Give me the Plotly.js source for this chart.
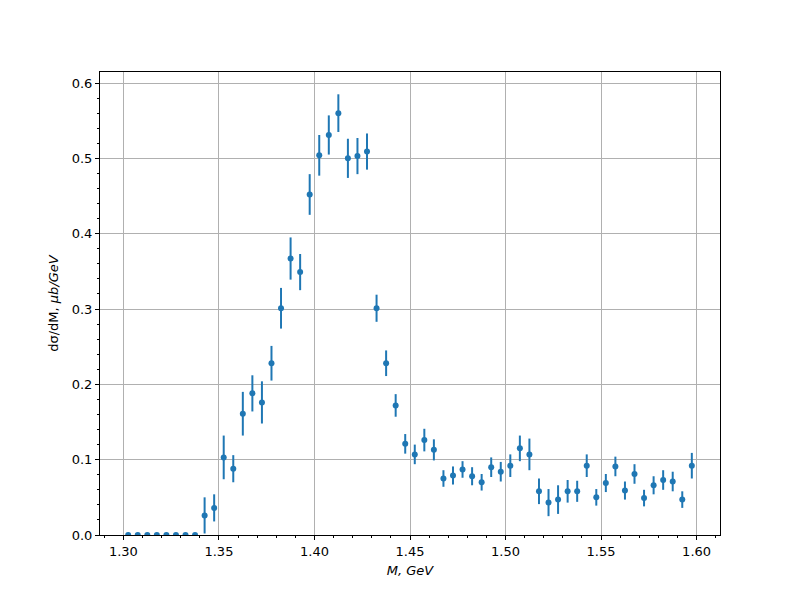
<!DOCTYPE html>
<html>
<head>
<meta charset="utf-8">
<script src="https://cdn.plot.ly/plotly-3.0.1.min.js"></script>
<style>html,body{margin:0;padding:0;background:#fff;}#chart{width:800px;height:600px;}</style>
</head>
<body>
<div id="chart"></div>
<script>
const massGeV = [
  1.3025, 1.3075, 1.3125, 1.3175, 1.3225, 1.3275, 1.3325, 1.3375,
  1.3425, 1.3475, 1.3525, 1.3575, 1.3625, 1.3675, 1.3725, 1.3775,
  1.3825, 1.3875, 1.3925, 1.3975, 1.4025, 1.4075, 1.4125, 1.4175,
  1.4225, 1.4275, 1.4325, 1.4375, 1.4425, 1.4475, 1.4525, 1.4575,
  1.4625, 1.4675, 1.4725, 1.4775, 1.4825, 1.4875, 1.4925, 1.4975,
  1.5025, 1.5075, 1.5125, 1.5175, 1.5225, 1.5275, 1.5325, 1.5375,
  1.5425, 1.5475, 1.5525, 1.5575, 1.5625, 1.5675, 1.5725, 1.5775,
  1.5825, 1.5875, 1.5925, 1.5975
];
const dsigma = [
  0, 0, 0, 0, 0, 0, 0, 0,
  0.026, 0.036, 0.103, 0.088, 0.161, 0.188, 0.176, 0.228,
  0.301, 0.367, 0.349, 0.452, 0.504, 0.531, 0.560, 0.500,
  0.503, 0.509, 0.301, 0.228, 0.172, 0.121, 0.107, 0.126,
  0.113, 0.075, 0.079, 0.087, 0.078, 0.070, 0.090, 0.084,
  0.092, 0.115, 0.107, 0.058, 0.043, 0.047, 0.058, 0.058,
  0.092, 0.050, 0.069, 0.091, 0.059, 0.081, 0.049, 0.066,
  0.073, 0.071, 0.047, 0.092
];
const dsigmaErr = [
  0, 0, 0, 0, 0, 0, 0, 0,
  0.024, 0.018, 0.029, 0.018, 0.029, 0.024, 0.028, 0.023,
  0.027, 0.028, 0.024, 0.027, 0.027, 0.026, 0.025, 0.026,
  0.024, 0.024, 0.018, 0.017, 0.015, 0.013, 0.013, 0.015,
  0.014, 0.011, 0.012, 0.011, 0.012, 0.011, 0.013, 0.013,
  0.015, 0.017, 0.021, 0.017, 0.018, 0.019, 0.015, 0.014,
  0.015, 0.011, 0.012, 0.013, 0.012, 0.013, 0.011, 0.012,
  0.013, 0.013, 0.011, 0.017
];
const xTicks = [1.30, 1.35, 1.40, 1.45, 1.50, 1.55, 1.60];
const xTickText = ['1.30', '1.35', '1.40', '1.45', '1.50', '1.55', '1.60'];
const yTicks = [0.0, 0.1, 0.2, 0.3, 0.4, 0.5, 0.6];
const yTickText = ['0.0', '0.1', '0.2', '0.3', '0.4', '0.5', '0.6'];

const font = {family: 'DejaVu Sans', size: 13, color: '#000'};

const trace = {
  type: 'scatter',
  mode: 'markers',
  x: massGeV,
  y: dsigma,
  error_y: {type: 'data', array: dsigmaErr, visible: true, color: '#1f77b4', thickness: 2, width: 0},
  marker: {color: '#1f77b4', size: 6},
  hoverinfo: 'x+y'
};

const axisCommon = {
  showline: true, mirror: true, linecolor: '#000', linewidth: 1,
  ticks: 'outside', ticklen: 4, tickwidth: 1, tickcolor: '#000',
  showgrid: true, gridcolor: '#b0b0b0', gridwidth: 1,
  zeroline: false, tickfont: font
};

const layout = {
  width: 800, height: 600,
  paper_bgcolor: '#fff', plot_bgcolor: '#fff',
  margin: {l: 100, r: 80, t: 72, b: 65},
  showlegend: false,
  font: font,
  xaxis: Object.assign({}, axisCommon, {
    range: [1.28775, 1.61225],
    tickmode: 'array', tickvals: xTicks, ticktext: xTickText,
    minor: {dtick: 0.01, tick0: 1.30, ticks: 'outside', ticklen: 2, tickcolor: '#000', showgrid: false},
    title: {text: '<i>M, GeV</i>', font: font, standoff: 8}
  }),
  yaxis: Object.assign({}, axisCommon, {
    range: [0, 0.6146],
    tickmode: 'array', tickvals: yTicks, ticktext: yTickText,
    minor: {dtick: 0.02, tick0: 0, ticks: 'outside', ticklen: 2, tickcolor: '#000', showgrid: false},
    title: {text: 'dσ/dM, <i>μb/GeV</i>', font: font, standoff: 10}
  })
};

Plotly.newPlot('chart', [trace], layout, {displayModeBar: false, staticPlot: true});
</script>
</body>
</html>
